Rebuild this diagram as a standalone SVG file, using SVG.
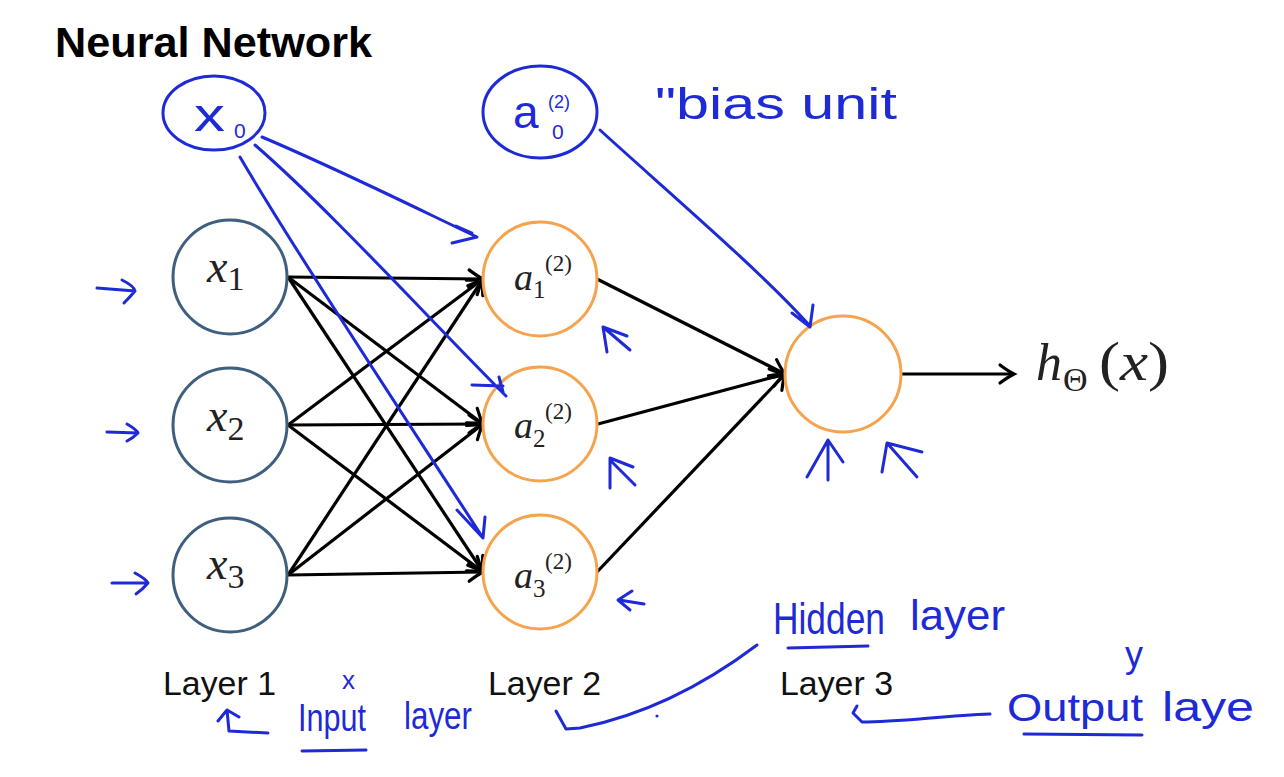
<svg xmlns="http://www.w3.org/2000/svg" width="1284" height="777" viewBox="0 0 1284 777">
<defs>
<style>
.in{fill:#fff;stroke:#3f5f7f;stroke-width:3}
.hid{fill:#fff;stroke:#f5a34d;stroke-width:3}
.edge{stroke:#000;stroke-width:3.2;fill:none;marker-end:url(#ah)}
.ink{stroke:#1e2ad6;stroke-width:3;fill:none;stroke-linecap:round;stroke-linejoin:round}
.inkt{fill:#1e2ad6;font-family:"Liberation Sans",sans-serif}
.math{font-family:"Liberation Serif",serif;fill:#222}
.it{font-style:italic}
.lbl{font-family:"Liberation Sans",sans-serif;font-size:34px;fill:#111}
</style>
<marker id="ah" markerUnits="userSpaceOnUse" markerWidth="30" markerHeight="30" refX="22" refY="15" orient="auto" overflow="visible">
<path d="M8,6 Q16,12 22,15 Q16,18 8,24" fill="none" stroke="#000" stroke-width="3.2" stroke-linecap="round"/>
</marker>
</defs>
<rect width="1284" height="777" fill="#fff"/>
<text x="55" y="57" font-family="'Liberation Sans',sans-serif" font-weight="bold" font-size="42" textLength="317" lengthAdjust="spacingAndGlyphs" fill="#000">Neural Network</text>

<g id="connectors">
<line class="edge" x1="288" y1="277" x2="483" y2="279"/>
<line class="edge" x1="288" y1="277" x2="483" y2="424"/>
<line class="edge" x1="288" y1="277" x2="483" y2="572"/>
<line class="edge" x1="288" y1="425" x2="483" y2="279"/>
<line class="edge" x1="288" y1="425" x2="483" y2="424"/>
<line class="edge" x1="288" y1="425" x2="483" y2="572"/>
<line class="edge" x1="288" y1="575" x2="483" y2="279"/>
<line class="edge" x1="288" y1="575" x2="483" y2="424"/>
<line class="edge" x1="288" y1="575" x2="483" y2="572"/>
<line class="edge" x1="597" y1="279" x2="785" y2="374"/>
<line class="edge" x1="598" y1="424" x2="785" y2="374"/>
<line class="edge" x1="597" y1="572" x2="785" y2="374"/>
<line class="edge" x1="902" y1="374" x2="1014" y2="374"/>
</g>

<g id="x1"><circle class="in" cx="230" cy="277" r="57"/>
<text class="math" x="207" y="282"><tspan class="it" font-size="46">x</tspan><tspan font-size="34" dy="8">1</tspan></text></g>
<g id="x2"><circle class="in" cx="230" cy="425" r="57"/>
<text class="math" x="207" y="431"><tspan class="it" font-size="46">x</tspan><tspan font-size="34" dy="9">2</tspan></text></g>
<g id="x3"><circle class="in" cx="230" cy="575" r="57"/>
<text class="math" x="207" y="579"><tspan class="it" font-size="46">x</tspan><tspan font-size="34" dy="9">3</tspan></text></g>

<g id="a1"><circle class="hid" cx="540" cy="279" r="57"/>
<text class="math it" x="514" y="290" font-size="38">a</text>
<text class="math" x="533" y="298" font-size="25">1</text>
<text class="math" x="545" y="271" font-size="23">(2)</text></g>
<g id="a2"><circle class="hid" cx="540" cy="424" r="57"/>
<text class="math it" x="514" y="438" font-size="38">a</text>
<text class="math" x="533" y="447" font-size="25">2</text>
<text class="math" x="545" y="419" font-size="23">(2)</text></g>
<g id="a3"><circle class="hid" cx="540" cy="572" r="57"/>
<text class="math it" x="514" y="588" font-size="38">a</text>
<text class="math" x="533" y="597" font-size="25">3</text>
<text class="math" x="545" y="569" font-size="23">(2)</text></g>

<g id="out"><circle class="hid" cx="843" cy="374" r="58"/></g>

<g id="h"><text class="math it" x="1036" y="380" font-size="52">h</text>
<text class="math" x="1063" y="391" font-size="34">Θ</text>
<text class="math" x="1099" y="380" font-size="54" textLength="70" lengthAdjust="spacingAndGlyphs">(<tspan class="it">x</tspan>)</text></g>

<g id="layers">
<text class="lbl" x="163" y="695" textLength="113" lengthAdjust="spacingAndGlyphs">Layer 1</text>
<text class="lbl" x="488" y="695" textLength="113" lengthAdjust="spacingAndGlyphs">Layer 2</text>
<text class="lbl" x="780" y="695" textLength="113" lengthAdjust="spacingAndGlyphs">Layer 3</text>
</g>

<g id="annotations">
<ellipse class="ink" cx="214" cy="113" rx="51" ry="37"/>
<text class="inkt" x="194" y="131" font-size="46" textLength="31" lengthAdjust="spacingAndGlyphs">x</text>
<text class="inkt" x="234" y="138" font-size="21">0</text>
<ellipse class="ink" cx="540" cy="112" rx="57" ry="46"/>
<text class="inkt" x="513" y="128" font-size="46">a</text>
<text class="inkt" x="552" y="139" font-size="21">0</text>
<text class="inkt" x="548" y="108" font-size="18">(2)</text>
<text class="inkt" x="655" y="119" font-size="44" textLength="242" lengthAdjust="spacingAndGlyphs">"bias unit</text>

<path class="ink" d="M262,137 C340,170 420,210 477,237 L452,243 M456,226 L472,233"/>
<path class="ink" d="M255,145 C330,210 430,320 506,396 M472,385 L503,386 M499,377 L503,392"/>
<path class="ink" d="M240,157 C300,260 420,440 483,538 M457,510 L483,538 L485,517"/>
<path class="ink" d="M600,130 C660,185 760,270 810,326 M792,313 L810,327 L813,305"/>

<path class="ink" d="M97,288 L135,291 M122,280 Q134,286 135,291 Q130,297 124,303"/>
<path class="ink" d="M107,432 L138,433 M127,424 Q137,430 138,433 Q133,438 127,441"/>
<path class="ink" d="M112,583 L148,583 M135,573 Q146,579 148,583 Q143,589 136,594"/>

<path class="ink" d="M630,350 L603,327 M607,352 L603,327 L627,336"/>
<path class="ink" d="M635,485 L611,461 M610,488 L610,458 L633,467"/>
<path class="ink" d="M644,604 L619,600 M632,591 L618,600 L630,610"/>
<path class="ink" d="M828,480 L828,440 M807,477 L828,440 L843,462"/>
<path class="ink" d="M917,477 L887,443 M882,472 L887,443 L922,452"/>

<text class="inkt" x="342" y="689" font-size="26">x</text>
<path class="ink" d="M268,733 L229,731 L227,710 M218,721 L227,710 L239,717"/>
<text class="inkt" x="298" y="731" font-size="38" textLength="68" lengthAdjust="spacingAndGlyphs">Input</text>
<path class="ink" d="M302,751 L366,750"/>
<text class="inkt" x="404" y="729" font-size="38" textLength="68" lengthAdjust="spacingAndGlyphs">layer</text>

<path class="ink" d="M757,645 C700,688 640,716 580,728 L566,729 L556,711"/>
<circle cx="657" cy="716" r="1.6" fill="#1e2ad6"/>
<text class="inkt" x="773" y="634" font-size="44" textLength="112" lengthAdjust="spacingAndGlyphs">Hidden</text>
<text class="inkt" x="910" y="630" font-size="42" textLength="95" lengthAdjust="spacingAndGlyphs">layer</text>
<path class="ink" d="M788,648 L868,646"/>

<path class="ink" d="M990,714 C940,716 900,722 862,722 L853,713 L857,706"/>
<text class="inkt" x="1125" y="667" font-size="36">y</text>
<text class="inkt" x="1007" y="721" font-size="38" textLength="136" lengthAdjust="spacingAndGlyphs">Output</text>
<path class="ink" d="M1024,734 L1142,735"/>
<text class="inkt" x="1162" y="721" font-size="40" textLength="92" lengthAdjust="spacingAndGlyphs">laye</text>
</g>
</svg>
